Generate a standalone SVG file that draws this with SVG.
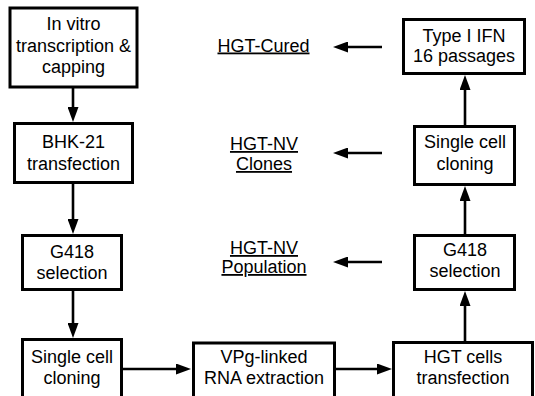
<svg xmlns="http://www.w3.org/2000/svg" width="535" height="396" viewBox="0 0 535 396">
<style>
.box{fill:#fff;stroke:#000;stroke-width:3}
.t{font-family:"Liberation Sans",Arial,sans-serif;font-size:18px;fill:#000;text-anchor:middle}
.lbl{text-decoration:underline}
.c{fill:none;stroke:#000;stroke-width:2.6}
</style>
<defs>
<marker id="ah" markerUnits="userSpaceOnUse" markerWidth="15" markerHeight="11" refX="7" refY="5.5" orient="auto">
<path d="M0,0 L15,5.5 L0,11 z" fill="#000"/>
</marker>
</defs>
<rect width="535" height="396" fill="#fff"/>
<g id="connectors">
<path class="c" d="M73,88 V114" marker-end="url(#ah)"/>
<path class="c" d="M73,184 V226" marker-end="url(#ah)"/>
<path class="c" d="M73,291 V330" marker-end="url(#ah)"/>
<path class="c" d="M123,369 H183" marker-end="url(#ah)"/>
<path class="c" d="M336,369 H384" marker-end="url(#ah)"/>
<path class="c" d="M465,341 V299" marker-end="url(#ah)"/>
<path class="c" d="M465,234 V194" marker-end="url(#ah)"/>
<path class="c" d="M465,125 V83" marker-end="url(#ah)"/>
<path class="c" d="M382,47 H341" marker-end="url(#ah)"/>
<path class="c" d="M382,153 H341" marker-end="url(#ah)"/>
<path class="c" d="M382,262 H341" marker-end="url(#ah)"/>
</g>
<g id="invitro">
<rect class="box" x="10" y="8" width="127" height="79"/>
<text class="t" x="73.5" y="30">In vitro</text>
<text class="t" x="73.5" y="52">transcription &amp;</text>
<text class="t" x="73.5" y="73">capping</text>
</g>
<g id="bhk21">
<rect class="box" x="14.5" y="123.5" width="118" height="59"/>
<text class="t" x="73.5" y="148">BHK-21</text>
<text class="t" x="73.5" y="170">transfection</text>
</g>
<g id="g418-left">
<rect class="box" x="22.5" y="235.5" width="99" height="54"/>
<text class="t" x="72" y="257.5">G418</text>
<text class="t" x="72" y="278.5">selection</text>
</g>
<g id="single-left">
<rect class="box" x="22.5" y="339.5" width="99" height="70"/>
<text class="t" x="72" y="363">Single cell</text>
<text class="t" x="72" y="384">cloning</text>
</g>
<g id="vpg">
<rect class="box" x="193.5" y="343" width="141" height="70"/>
<text class="t" x="264" y="363">VPg-linked</text>
<text class="t" x="264" y="384">RNA extraction</text>
</g>
<g id="hgt-transfection">
<rect class="box" x="393.5" y="342.5" width="139" height="70"/>
<text class="t" x="463" y="363">HGT cells</text>
<text class="t" x="463" y="384">transfection</text>
</g>
<g id="g418-right">
<rect class="box" x="414.5" y="235.5" width="100" height="54"/>
<text class="t" x="465" y="256">G418</text>
<text class="t" x="465" y="277">selection</text>
</g>
<g id="single-right">
<rect class="box" x="414.5" y="126.5" width="100" height="58"/>
<text class="t" x="465" y="148">Single cell</text>
<text class="t" x="465" y="170">cloning</text>
</g>
<g id="ifn">
<rect class="box" x="403.5" y="19.5" width="121" height="54"/>
<text class="t" x="464" y="41.5">Type I IFN</text>
<text class="t" x="464" y="61.5">16 passages</text>
</g>
<g id="label-cured">
<text class="t lbl" x="263.5" y="51.5">HGT-Cured</text>
</g>
<g id="label-clones">
<text class="t lbl" x="264" y="150">HGT-NV</text>
<text class="t lbl" x="264" y="170">Clones</text>
</g>
<g id="label-population">
<text class="t lbl" x="264" y="254">HGT-NV</text>
<text class="t lbl" x="264" y="273">Population</text>
</g>
</svg>
